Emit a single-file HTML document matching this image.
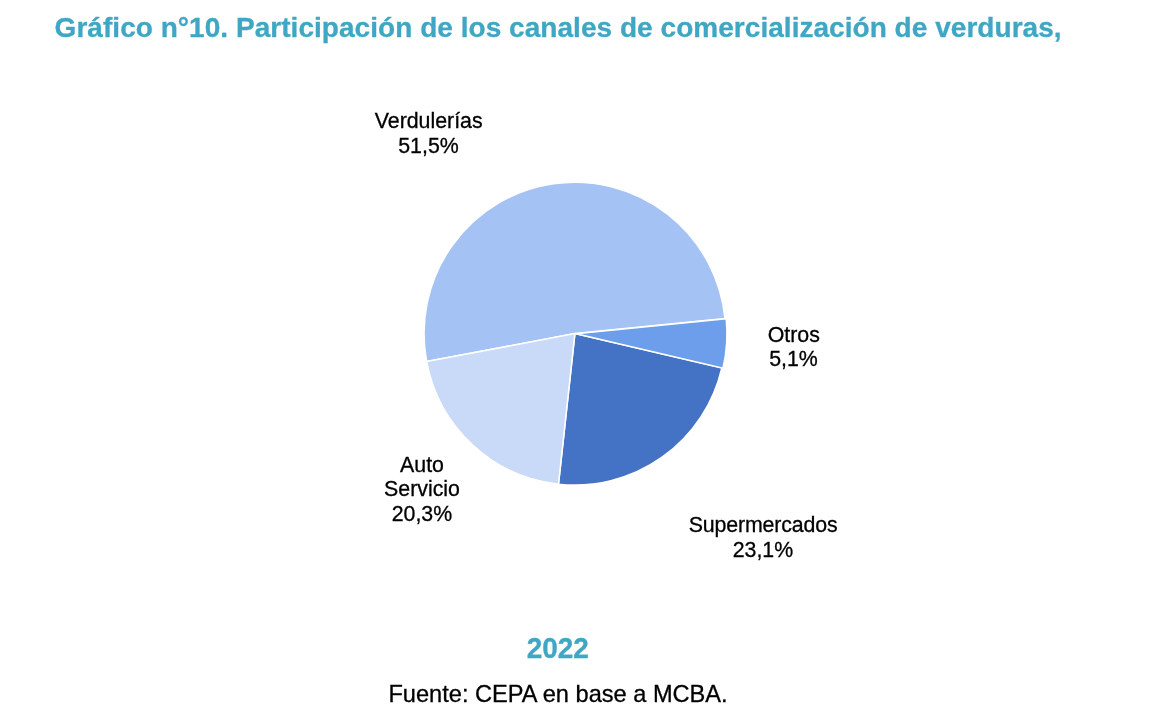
<!DOCTYPE html>
<html lang="es"><head><meta charset="utf-8"><title>Gráfico n°10</title>
<style>
html,body{margin:0;padding:0;background:#fff;}
body{width:1164px;height:719px;overflow:hidden;}
svg{display:block;font-family:"Liberation Sans",Arial,Helvetica,sans-serif;}
</style></head><body>
<svg width="1164" height="719" viewBox="0 0 1164 719">
<rect width="1164" height="719" fill="#fff"/>
<g>
<path d="M574.90,333.60 L426.65,361.61 A150.85,151.45 0 1 1 725.01,318.62 Z" fill="#a4c2f4" stroke="#fff" stroke-width="1.5" stroke-linejoin="round"/>
<path d="M574.90,333.60 L721.79,368.05 A150.85,151.45 0 0 1 558.49,484.15 Z" fill="#4472c4" stroke="#fff" stroke-width="1.5" stroke-linejoin="round"/>
<path d="M574.90,333.60 L558.49,484.15 A150.85,151.45 0 0 1 426.65,361.61 Z" fill="#c9daf8" stroke="#fff" stroke-width="1.5" stroke-linejoin="round"/>
<path d="M576.10,333.68 L726.21,318.70 A150.85,151.45 0 0 1 722.99,368.13 Z" fill="#6d9eeb" stroke="#fff" stroke-width="1.5" stroke-linejoin="round"/>
</g>
<g>
<text x="54.6" y="37" font-size="28" text-anchor="start" fill="#3fa6c4" stroke="#3fa6c4" stroke-width="0.3" font-weight="bold" textLength="1007" lengthAdjust="spacing">Gráfico n°10. Participación de los canales de comercialización de verduras,</text>
<text x="428.7" y="128" font-size="21.33" text-anchor="middle" fill="#000" stroke="#000" stroke-width="0.3" font-weight="normal">Verdulerías</text>
<text x="428.5" y="153" font-size="21.33" text-anchor="middle" fill="#000" stroke="#000" stroke-width="0.3" font-weight="normal">51,5%</text>
<text x="793.8" y="342" font-size="21.33" text-anchor="middle" fill="#000" stroke="#000" stroke-width="0.3" font-weight="normal">Otros</text>
<text x="793.5" y="366" font-size="21.33" text-anchor="middle" fill="#000" stroke="#000" stroke-width="0.3" font-weight="normal">5,1%</text>
<text x="422.0" y="472" font-size="21.33" text-anchor="middle" fill="#000" stroke="#000" stroke-width="0.3" font-weight="normal">Auto</text>
<text x="422.0" y="496" font-size="21.33" text-anchor="middle" fill="#000" stroke="#000" stroke-width="0.3" font-weight="normal">Servicio</text>
<text x="421.9" y="521" font-size="21.33" text-anchor="middle" fill="#000" stroke="#000" stroke-width="0.3" font-weight="normal">20,3%</text>
<text x="763.2" y="532" font-size="21.33" text-anchor="middle" fill="#000" stroke="#000" stroke-width="0.3" font-weight="normal" textLength="148.9" lengthAdjust="spacing">Supermercados</text>
<text x="762.9" y="557" font-size="21.33" text-anchor="middle" fill="#000" stroke="#000" stroke-width="0.3" font-weight="normal">23,1%</text>
<text transform="translate(557.8,657.5) scale(1,1.05)" font-size="28" text-anchor="middle" fill="#3fa6c4" stroke="#3fa6c4" stroke-width="0.3" font-weight="bold">2022</text>
<text x="558.05" y="702" font-size="23.6" text-anchor="middle" fill="#000" stroke="#000" stroke-width="0.3" font-weight="normal">Fuente: CEPA en base a MCBA.</text>
</g>
</svg>
</body></html>
